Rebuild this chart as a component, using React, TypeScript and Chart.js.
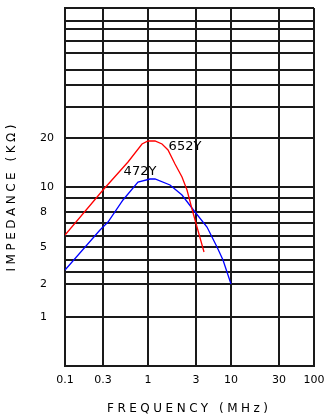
import React, { useEffect, useRef } from 'react';
import { Chart, registerables } from 'chart.js';

Chart.register(...registerables);

// Frequency axis: tick labels and their positions along the (schematic) axis
const freqLabels = ['0.1', '0.3', '1', '3', '10', '30', '100'];
const freqPos = [0, 38, 83, 131, 166, 214, 249];

// Impedance axis: horizontal grid rulings and labelled positions (schematic)
const impGridPos = [0, 49, 82, 94, 106, 119, 130, 143, 154, 168, 179, 228, 259, 281, 296, 313, 325, 337, 345, 358];
const impLabelPos = [49, 82, 119, 154, 179, 228];
const impLabels = ['1', '2', '5', '8', '10', '20'];

// 652Y curve (axis units)
const s652X = [0, 38, 63, 77, 83, 90, 97, 103, 110, 117, 122, 127, 132, 139];
const s652Y = [131, 176, 204, 222, 225, 225, 222, 216, 202, 189, 176, 157, 139, 114];

// 472Y curve (axis units)
const s472X = [0, 35, 43, 58, 73, 85, 90, 105, 117, 130, 142, 152, 158, 166];
const s472Y = [96, 136, 144, 166, 184, 187, 187, 181, 171, 154, 139, 119, 106, 82];

// Curve name labels
const curveNames = ['652Y', '472Y'];
const curveNameX = [120, 75];
const curveNameY = [219, 194];

const xTitle = 'FREQUENCY (MHz)';
const yTitle = 'IMPEDANCE (KΩ)';

const FONT = '"DejaVu Sans", sans-serif';

function drawSpaced(ctx: CanvasRenderingContext2D, text: string, cx: number, cy: number, target: number) {
  (ctx as any).letterSpacing = '0px';
  const w0 = ctx.measureText(text).width;
  const n = text.length;
  const ls = (target - w0) / (n - 1);
  (ctx as any).letterSpacing = ls + 'px';
  ctx.textAlign = 'left';
  ctx.textBaseline = 'middle';
  ctx.fillText(text, cx - target / 2, cy);
  (ctx as any).letterSpacing = '0px';
}

const textPlugin = {
  id: 'textPlugin',
  afterDraw(chart: any) {
    const ctx: CanvasRenderingContext2D = chart.ctx;
    const xs = chart.scales.x;
    const ys = chart.scales.y;
    const ca = chart.chartArea;
    ctx.save();
    ctx.fillStyle = '#000';
    ctx.font = '13px ' + FONT;
    ctx.textAlign = 'center';
    ctx.textBaseline = 'middle';
    curveNames.forEach((t, i) => {
      ctx.fillText(t, xs.getPixelForValue(curveNameX[i]), ys.getPixelForValue(curveNameY[i]));
    });
    ctx.font = '12px ' + FONT;
    drawSpaced(ctx, xTitle, (ca.left + ca.right) / 2 - 2, chart.height - 9, 161);
    ctx.translate(12, (ca.top + ca.bottom) / 2 + 11);
    ctx.rotate(-Math.PI / 2);
    drawSpaced(ctx, yTitle, 0, 0, 147);
    ctx.restore();
  },
};

const zeroPad = (s: any) => {
  s.paddingLeft = 0;
  s.paddingRight = 0;
  s.paddingTop = 0;
  s.paddingBottom = 0;
};

export default function App() {
  const ref = useRef<HTMLCanvasElement>(null);
  useEffect(() => {
    if (!ref.current) return;
    const gridColor = '#1a1a1a';
    const chart = new Chart(ref.current, {
      type: 'line',
      data: {
        datasets: [
          {
            label: '652Y',
            data: s652X.map((x, i) => ({ x, y: s652Y[i] })),
            borderColor: '#ff0000',
            borderWidth: 1.3,
            pointRadius: 0,
            tension: 0,
            fill: false,
          },
          {
            label: '472Y',
            data: s472X.map((x, i) => ({ x, y: s472Y[i] })),
            borderColor: '#0000ff',
            borderWidth: 1.3,
            pointRadius: 0,
            tension: 0,
            fill: false,
          },
        ],
      },
      options: {
        animation: false,
        responsive: true,
        maintainAspectRatio: false,
        layout: { padding: { left: 40, top: 8, right: 13, bottom: 0 } },
        plugins: { legend: { display: false }, tooltip: { enabled: false } },
        scales: {
          x: {
            type: 'linear',
            min: 0,
            max: 249,
            afterFit: (s: any) => { s.height = 52; zeroPad(s); },
            afterBuildTicks: (s: any) => { s.ticks = freqPos.map((v) => ({ value: v })); },
            ticks: {
              autoSkip: false,
              maxRotation: 0,
              padding: 8,
              color: '#000',
              font: { family: FONT, size: 11 },
              callback: (v: any) => {
                const i = freqPos.indexOf(Number(v));
                return i >= 0 ? freqLabels[i] : '';
              },
            },
            grid: { color: gridColor, lineWidth: 2, drawTicks: false },
            border: { color: gridColor, width: 2 },
          },
          y: {
            type: 'linear',
            min: 0,
            max: 358,
            afterFit: (s: any) => { s.width = 25; zeroPad(s); },
            afterBuildTicks: (s: any) => { s.ticks = impGridPos.map((v) => ({ value: v })); },
            ticks: {
              autoSkip: false,
              crossAlign: 'far',
              color: '#000',
              font: { family: FONT, size: 11 },
              callback: (v: any) => {
                const i = impLabelPos.indexOf(Number(v));
                return i >= 0 ? impLabels[i] : '';
              },
            },
            grid: { color: gridColor, lineWidth: 2, drawTicks: false },
            border: { color: gridColor, width: 2 },
          },
        },
      },
      plugins: [textPlugin],
    } as any);
    return () => chart.destroy();
  }, []);
  return (
    <div style={{ position: 'absolute', left: 0, top: 0, width: 327, height: 418 }}>
      <canvas ref={ref} />
    </div>
  );
}
